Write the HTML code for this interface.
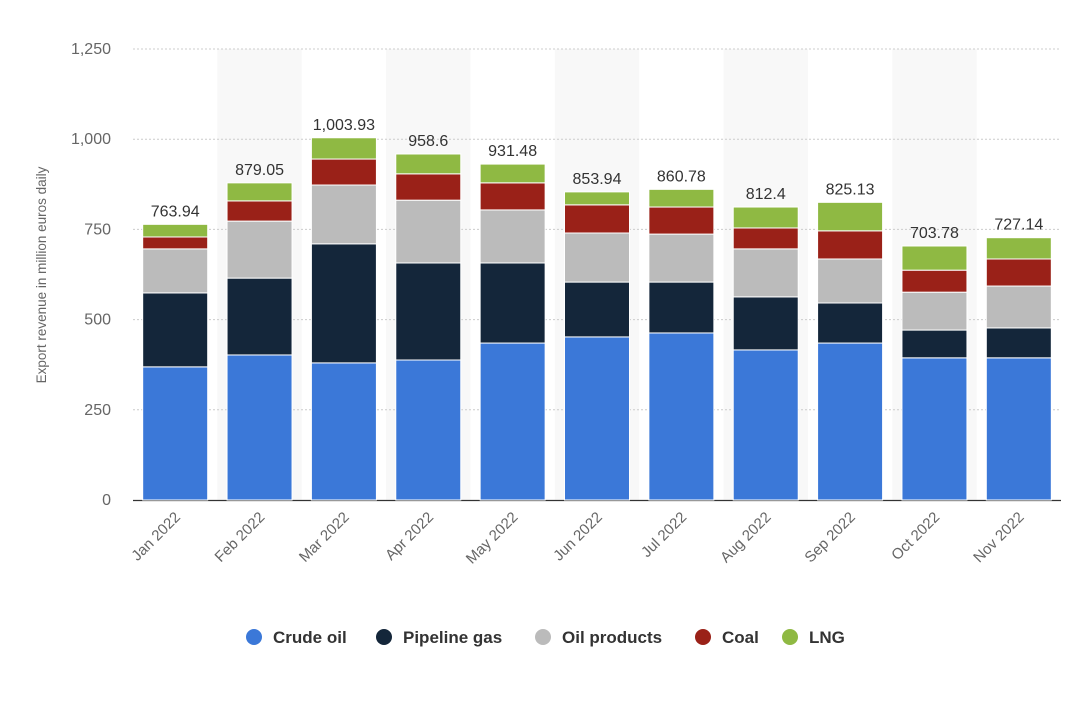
<!DOCTYPE html>
<html><head><meta charset="utf-8"><style>
body{margin:0;background:#fff;font-family:"Liberation Sans",sans-serif;}
svg text{font-family:"Liberation Sans",sans-serif;}
</style></head><body>
<svg id="chart" width="1080" height="711">
<g id="bands"></g><g id="grid"></g><g id="bars"></g><g id="labels"></g>
<text transform="translate(46,275) rotate(-90)" text-anchor="middle" font-size="13.5" fill="#666">Export revenue in million euros daily</text>
<g id="legend"></g>
</svg>
<script>
const categories=["Jan 2022","Feb 2022","Mar 2022","Apr 2022","May 2022","Jun 2022","Jul 2022","Aug 2022","Sep 2022","Oct 2022","Nov 2022"];
const crudeOil=[369,402,380,388,435,452,463,416,435,394,394];
const pipelineGas=[205,213,330,269,222,152,141,147,111,77,83];
const oilProducts=[122,158,163,174,147,136,133,133,122,105,116];
const coal=[33,56,72,73,75,78,75,58,78,61,75];
const lng=[35,50,59,55,52,36,49,58,79,67,59];
const totals=["763.94","879.05","1,003.93","958.6","931.48","853.94","860.78","812.4","825.13","703.78","727.14"];
const yTicks=[0,250,500,750,1000,1250];
const seriesNames=["Crude oil","Pipeline gas","Oil products","Coal","LNG"];
const colors=["#3b78d8","#14263a","#bbbbbb","#9a2118","#8fb943"];
const ns="http://www.w3.org/2000/svg";
const x0=133,x1=1061,yBase=500,yTop=49,yMax=1250;
const band=(x1-x0)/categories.length,bw=65;
const y=v=>yBase-(v/yMax)*(yBase-yTop);
const xc=i=>x0+band*(i+0.5);
function mk(t,a,p){const e=document.createElementNS(ns,t);for(const k in a)e.setAttribute(k,a[k]);p.appendChild(e);return e;}
const G=id=>document.getElementById(id);
categories.forEach((c,i)=>{if(i%2===1){const r=mk('rect',{x:xc(i)-band/2,y:yTop,width:band,height:yBase-yTop,fill:'#f8f8f8'},G('bands'));

}});
yTicks.forEach(t=>{if(t>0){const l=mk('line',{x1:x0,x2:x1,y1:y(t),y2:y(t),stroke:'#ccc','stroke-dasharray':'2,2'},G('grid'));

}
const tx=mk('text',{x:111,y:y(t)+5,'text-anchor':'end','font-size':16,fill:'#666'},G('grid'));tx.textContent=t.toLocaleString('en-US');

});
const ax=mk('line',{x1:x0,x2:x1,y1:yBase+0.5,y2:yBase+0.5,stroke:'#333','stroke-width':1.2},G('grid'));


const series=[crudeOil,pipelineGas,oilProducts,coal,lng];
categories.forEach((c,i)=>{let acc=0;
series.forEach((s,k)=>{const r=mk('rect',{x:xc(i)-bw/2,y:y(acc+s[i]),width:bw,height:y(acc)-y(acc+s[i]),fill:colors[k],stroke:'#fff','stroke-width':1},G('bars'));

acc+=s[i];});
const tl=mk('text',{x:xc(i),y:y(acc)-8,'text-anchor':'middle','font-size':16,fill:'#333'},G('labels'));tl.textContent=totals[i];


const xl=mk('text',{transform:`translate(${xc(i)+6},${yBase+18}) rotate(-45)`,'text-anchor':'end','font-size':15,fill:'#666'},G('labels'));xl.textContent=c;

});
const lx=[254,384,543,703,790];
seriesNames.forEach((n,k)=>{const g=mk('g',{},G('legend'));


mk('circle',{cx:lx[k],cy:637,r:8,fill:colors[k]},g);
const t=mk('text',{x:lx[k]+19,y:643,'font-size':17,'font-weight':'bold',fill:'#333'},g);t.textContent=n;});
</script>
</body></html>
